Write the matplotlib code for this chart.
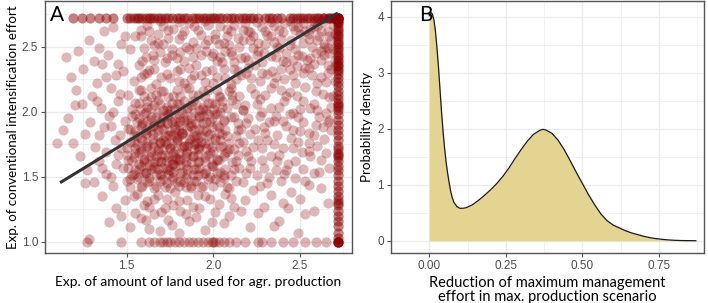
import matplotlib
matplotlib.use("Agg")
import matplotlib.pyplot as plt

# ---------------- Panel A data ----------------
# interior cloud points (x, y), read region by region from the reference
cloud_pts = [
    (1.42,2.65),(1.58,2.63),(1.71,2.66),(1.83,2.62),(1.97,2.67),(2.08,2.64),(2.21,2.61),(2.35,2.66),(2.47,2.63),(2.58,2.65),
    (1.28,2.55),(1.47,2.52),(1.55,2.58),(1.66,2.51),(1.74,2.57),(1.88,2.54),(1.93,2.59),(2.03,2.52),(2.14,2.57),(2.26,2.53),(2.31,2.59),(2.44,2.51),(2.55,2.56),(2.64,2.52),
    (1.22,2.47),(1.39,2.44),(1.52,2.48),(1.61,2.42),(1.69,2.46),(1.79,2.41),(1.86,2.48),(1.99,2.43),(2.07,2.47),(2.18,2.42),(2.29,2.45),(2.38,2.49),(2.51,2.43),(2.62,2.47),
    (1.25,2.33),(1.36,2.37),(1.48,2.31),(1.57,2.36),(1.63,2.32),(1.72,2.38),(1.81,2.33),(1.90,2.36),(1.96,2.31),(2.05,2.38),(2.12,2.33),(2.24,2.36),(2.34,2.31),(2.42,2.38),(2.53,2.34),(2.66,2.36),
    (1.18,2.27),(1.33,2.22),(1.44,2.28),(1.54,2.24),(1.60,2.29),(1.67,2.21),(1.75,2.26),(1.83,2.22),(1.89,2.28),(1.95,2.23),(2.02,2.27),(2.10,2.21),(2.16,2.28),(2.27,2.24),(2.36,2.27),(2.47,2.22),(2.57,2.28),(2.65,2.23),
    (1.21,2.17),(1.30,2.12),(1.41,2.18),(1.51,2.13),(1.58,2.17),(1.64,2.11),(1.70,2.16),(1.77,2.12),(1.84,2.18),(1.91,2.13),(1.97,2.17),(2.04,2.11),(2.09,2.16),(2.15,2.12),(2.22,2.18),(2.30,2.13),(2.39,2.17),(2.48,2.12),(2.59,2.16),(2.67,2.11),
    (1.24,2.06),(1.35,2.03),(1.45,2.08),(1.53,2.02),(1.57,2.07),(1.62,2.04),(1.68,2.09),(1.73,2.01),(1.79,2.06),(1.85,2.03),(1.88,2.08),(1.94,2.02),(1.99,2.07),(2.05,2.04),(2.11,2.09),(2.17,2.01),(2.25,2.06),(2.33,2.03),(2.41,2.08),(2.50,2.02),(2.58,2.06),(2.68,2.04),
    (1.16,1.95),(1.29,1.92),(1.40,1.97),(1.49,1.93),(1.55,1.98),(1.59,1.91),(1.64,1.96),(1.69,1.92),(1.74,1.98),(1.78,1.93),(1.83,1.96),(1.87,1.91),(1.92,1.97),(1.96,1.92),(2.01,1.98),(2.06,1.94),(2.12,1.96),(2.19,1.91),(2.27,1.97),(2.35,1.93),(2.44,1.98),(2.52,1.92),(2.61,1.96),(2.67,1.94),
    (1.13,1.86),(1.26,1.83),(1.37,1.88),(1.46,1.82),(1.52,1.87),(1.56,1.81),(1.61,1.86),(1.65,1.83),(1.70,1.88),(1.74,1.82),(1.78,1.87),(1.82,1.84),(1.86,1.89),(1.90,1.82),(1.94,1.86),(1.98,1.83),(2.03,1.88),(2.08,1.81),(2.14,1.86),(2.21,1.83),(2.29,1.88),(2.37,1.82),(2.46,1.86),(2.55,1.84),(2.63,1.88),(1.80,1.81),
    (1.19,1.76),(1.32,1.73),(1.43,1.78),(1.50,1.72),(1.54,1.77),(1.58,1.71),(1.62,1.76),(1.66,1.73),(1.71,1.78),(1.75,1.72),(1.79,1.77),(1.83,1.74),(1.87,1.79),(1.91,1.72),(1.95,1.76),(1.99,1.73),(2.04,1.78),(2.09,1.71),(2.15,1.76),(2.23,1.73),(2.31,1.78),(2.40,1.72),(2.49,1.77),(2.60,1.74),(1.73,1.75),(1.89,1.75),
    (1.23,1.66),(1.34,1.62),(1.45,1.67),(1.51,1.63),(1.55,1.68),(1.60,1.61),(1.64,1.66),(1.68,1.62),(1.72,1.67),(1.76,1.63),(1.80,1.68),(1.84,1.61),(1.88,1.66),(1.92,1.62),(1.97,1.67),(2.02,1.63),(2.07,1.68),(2.13,1.62),(2.20,1.66),(2.28,1.63),(2.38,1.67),(2.47,1.62),(2.56,1.66),(1.78,1.65),
    (1.27,1.55),(1.38,1.52),(1.48,1.57),(1.53,1.51),(1.57,1.56),(1.61,1.53),(1.65,1.58),(1.69,1.52),(1.73,1.57),(1.77,1.54),(1.81,1.59),(1.85,1.52),(1.90,1.56),(1.95,1.53),(2.00,1.58),(2.06,1.51),(2.12,1.56),(2.19,1.53),(2.29,1.57),(2.41,1.52),(2.52,1.56),(2.61,1.54),
    (1.31,1.46),(1.42,1.43),(1.52,1.48),(1.58,1.42),(1.63,1.47),(1.67,1.43),(1.71,1.48),(1.75,1.41),(1.79,1.46),(1.84,1.42),(1.89,1.47),(1.94,1.43),(2.01,1.48),(2.08,1.42),(2.17,1.46),(2.27,1.43),(2.39,1.47),(2.55,1.44),
    (1.36,1.35),(1.49,1.32),(1.56,1.37),(1.62,1.31),(1.68,1.36),(1.73,1.33),(1.78,1.38),(1.85,1.32),(1.91,1.36),(1.98,1.33),(2.07,1.37),(2.18,1.32),(2.33,1.36),(2.50,1.33),
    (1.44,1.26),(1.55,1.22),(1.63,1.27),(1.70,1.23),(1.77,1.28),(1.84,1.21),(1.92,1.26),(2.01,1.23),(2.12,1.27),(2.26,1.22),(2.43,1.26),(2.58,1.24),
    (1.40,1.15),(1.52,1.11),(1.61,1.17),(1.69,1.08),(1.76,1.13),(1.86,1.16),(1.95,1.09),(2.06,1.14),(2.21,1.11),(2.38,1.16),
    (1.10,1.76),(1.15,2.42),(1.28,1.02),(1.20,2.05),(1.26,1.45),
]
# dense core of the cloud
core_pts = [
    (1.52,1.42),(1.59,1.43),(1.66,1.41),(1.72,1.42),(1.80,1.43),(1.87,1.41),(1.93,1.42),(2.00,1.43),(2.09,1.41),
    (1.50,1.47),(1.56,1.48),(1.62,1.46),(1.69,1.47),(1.76,1.48),(1.83,1.46),(1.90,1.47),(1.97,1.48),(2.04,1.46),(2.13,1.47),
    (1.54,1.52),(1.60,1.53),(1.67,1.51),(1.74,1.52),(1.81,1.53),(1.88,1.51),(1.94,1.52),(2.02,1.53),(2.10,1.51),
    (1.51,1.57),(1.58,1.58),(1.64,1.56),(1.71,1.57),(1.78,1.58),(1.85,1.56),(1.92,1.57),(1.99,1.58),(2.07,1.56),(2.15,1.57),
    (1.53,1.62),(1.60,1.63),(1.66,1.61),(1.73,1.62),(1.80,1.63),(1.87,1.61),(1.95,1.62),(2.03,1.63),(2.11,1.61),
    (1.50,1.67),(1.57,1.68),(1.63,1.66),(1.70,1.67),(1.77,1.68),(1.84,1.66),(1.91,1.67),(1.98,1.68),(2.06,1.66),(2.14,1.67),
    (1.55,1.72),(1.61,1.73),(1.68,1.71),(1.75,1.72),(1.82,1.73),(1.89,1.71),(1.96,1.72),(2.04,1.73),(2.12,1.71),
    (1.52,1.77),(1.59,1.78),(1.65,1.76),(1.72,1.77),(1.79,1.78),(1.86,1.76),(1.93,1.77),(2.01,1.78),(2.09,1.76),(2.17,1.77),
    (1.54,1.82),(1.61,1.83),(1.68,1.81),(1.75,1.82),(1.82,1.83),(1.89,1.81),(1.97,1.82),(2.05,1.83),(2.13,1.81),
    (1.51,1.87),(1.58,1.88),(1.64,1.86),(1.71,1.87),(1.78,1.88),(1.85,1.86),(1.92,1.87),(1.99,1.88),(2.07,1.86),(2.16,1.87),
    (1.56,1.92),(1.62,1.93),(1.69,1.91),(1.76,1.92),(1.83,1.93),(1.90,1.91),(1.98,1.92),(2.06,1.93),(2.14,1.91),
    (1.53,1.97),(1.60,1.98),(1.67,1.96),(1.73,1.97),(1.80,1.98),(1.87,1.96),(1.94,1.97),(2.02,1.98),(2.10,1.96),
    (1.58,2.02),(1.64,2.03),(1.71,2.01),(1.78,2.02),(1.85,2.03),(1.92,2.01),(2.00,2.02),(2.08,2.03),(2.17,2.01),
    (1.55,2.07),(1.62,2.08),(1.69,2.06),(1.76,2.07),(1.83,2.08),(1.90,2.06),(1.97,2.07),(2.05,2.08),(2.13,2.06),
    (1.60,2.12),(1.67,2.13),(1.74,2.11),(1.81,2.12),(1.88,2.13),(1.95,2.11),(2.03,2.12),(2.11,2.13),
    (1.57,2.17),(1.64,2.18),(1.71,2.16),(1.79,2.17),(1.86,2.18),(1.94,2.16),(2.02,2.17),(2.10,2.18),
    (1.66,1.57),(1.73,1.45),(1.81,1.47),(1.87,1.43),(1.70,1.62),(1.79,1.64),(1.85,1.74),(1.77,1.82),(1.69,1.77),(1.91,1.80),
    (1.81,1.93),(1.73,1.91),(1.65,1.89),(1.97,1.98),(1.76,1.60),(1.84,1.68),(1.68,1.70),(1.92,1.74),(1.80,1.86),(1.74,1.55),
]
# darkest centre of the core
centre_pts = [
    (1.57,1.50),(1.63,1.49),(1.70,1.51),(1.77,1.50),(1.84,1.49),(1.91,1.51),(1.98,1.50),(2.06,1.49),
    (1.55,1.55),(1.61,1.54),(1.68,1.56),(1.75,1.55),(1.82,1.54),(1.89,1.56),(1.96,1.55),(2.04,1.54),
    (1.57,1.60),(1.63,1.59),(1.70,1.61),(1.77,1.60),(1.84,1.59),(1.91,1.61),(1.99,1.60),
    (1.54,1.65),(1.60,1.64),(1.67,1.66),(1.74,1.65),(1.81,1.64),(1.88,1.66),(1.95,1.65),(2.02,1.64),
    (1.58,1.70),(1.64,1.69),(1.71,1.71),(1.78,1.70),(1.85,1.69),(1.92,1.71),(2.00,1.70),(2.08,1.69),
    (1.56,1.75),(1.62,1.74),(1.69,1.76),(1.76,1.75),(1.83,1.74),(1.90,1.76),(1.97,1.75),(2.05,1.74),
    (1.58,1.80),(1.65,1.79),(1.72,1.81),(1.79,1.80),(1.86,1.79),(1.93,1.81),(2.01,1.80),
    (1.55,1.85),(1.61,1.84),(1.68,1.86),(1.75,1.85),(1.82,1.84),(1.89,1.86),(1.96,1.85),(2.03,1.84),
    (1.59,1.90),(1.66,1.89),(1.73,1.91),(1.80,1.90),(1.87,1.89),(1.94,1.91),(2.02,1.90),
    (1.57,1.95),(1.64,1.94),(1.71,1.96),(1.78,1.95),(1.85,1.94),(1.92,1.96),(1.99,1.95),
    (1.61,2.00),(1.68,1.99),(1.75,2.01),(1.82,2.00),(1.89,1.99),(1.96,2.01),(2.04,2.00),
    (1.66,2.05),(1.73,2.04),(1.80,2.06),(1.87,2.05),(1.94,2.04),(2.01,2.06),
]
# upper band of the cloud (y 2.2 - 2.7)
upper_pts = [
    (2.50,2.60),(2.56,2.64),(2.61,2.58),(2.66,2.62),(2.69,2.67),(2.63,2.69),(2.58,2.70),(2.52,2.68),(2.46,2.66),(2.40,2.61),
    (2.68,2.55),(2.64,2.50),(2.59,2.45),(2.54,2.40),(2.48,2.35),(2.62,2.40),(2.67,2.45),(2.70,2.35),(2.66,2.30),(2.45,2.55),
    (2.37,2.50),(2.33,2.58),(2.28,2.65),(2.20,2.62),(2.15,2.50),(2.08,2.58),(2.25,2.44),(2.12,2.38),(2.00,2.45),(2.19,2.30),
    (1.62,2.67),(1.68,2.60),(1.77,2.64),(1.86,2.68),(1.91,2.63),(2.01,2.60),(2.12,2.67),(2.17,2.63),(2.25,2.69),(2.30,2.62),
    (2.41,2.68),(2.53,2.62),(2.60,2.66),(2.70,2.60),(1.64,2.55),(1.71,2.52),(1.80,2.56),(1.84,2.50),(1.97,2.55),(2.06,2.53),
    (2.10,2.46),(2.21,2.55),(2.35,2.54),(2.42,2.45),(2.57,2.50),(2.69,2.48),(1.66,2.40),(1.76,2.44),(1.83,2.39),(1.93,2.44),
    (2.02,2.39),(2.16,2.41),(2.28,2.38),(2.36,2.42),(2.46,2.40),(2.58,2.37),(1.62,2.30),(1.70,2.27),(1.79,2.31),(1.87,2.25),
    (1.99,2.32),(2.07,2.26),(2.14,2.31),(2.22,2.26),(2.31,2.29),(2.41,2.25),(2.52,2.30),(2.62,2.27),(2.70,2.24),(2.44,2.33),
]
upper_pts_2 = [
    (1.58,2.58),(1.63,2.62),(1.69,2.70),(1.74,2.63),(1.80,2.69),(1.89,2.66),(1.95,2.70),(2.04,2.66),(2.10,2.62),(2.18,2.68),
    (2.23,2.58),(2.33,2.69),(2.38,2.63),(2.44,2.70),(2.49,2.65),(2.55,2.60),(2.62,2.62),(2.67,2.58),
    (1.60,2.49),(1.68,2.53),(1.76,2.48),(1.82,2.59),(1.90,2.49),(1.95,2.52),(2.01,2.56),(2.09,2.51),(2.17,2.55),(2.23,2.49),
    (2.30,2.52),(2.39,2.56),(2.47,2.48),(2.52,2.53),(2.60,2.55),(2.66,2.49),
    (1.59,2.39),(1.65,2.44),(1.73,2.41),(1.81,2.46),(1.88,2.42),(1.96,2.47),(2.04,2.42),(2.11,2.44),(2.20,2.40),(2.26,2.47),
    (2.33,2.43),(2.40,2.39),(2.49,2.44),(2.56,2.41),(2.64,2.44),(2.70,2.40),
    (1.58,2.27),(1.66,2.33),(1.73,2.29),(1.80,2.24),(1.86,2.34),(1.93,2.28),(2.00,2.22),(2.06,2.33),(2.13,2.25),(2.20,2.34),
    (2.28,2.30),(2.35,2.22),(2.39,2.33),(2.46,2.28),(2.55,2.34),(2.60,2.22),(2.68,2.33),
]
# right part of the cloud (x 2.2 - 2.7, y 1.0 - 2.2)
right_pts = [
    (2.24,2.14),(2.33,2.18),(2.44,2.15),(2.53,2.19),(2.63,2.14),(2.28,2.00),(2.38,2.04),(2.46,1.99),(2.56,2.03),(2.65,1.99),
    (2.24,1.87),(2.32,1.92),(2.42,1.89),(2.50,1.85),(2.59,1.90),(2.68,1.86),(2.26,1.78),(2.35,1.75),(2.45,1.80),(2.55,1.76),
    (2.64,1.79),(2.22,1.62),(2.33,1.66),(2.43,1.60),(2.51,1.69),(2.62,1.63),(2.25,1.51),(2.36,1.55),(2.47,1.49),(2.58,1.53),
    (2.23,1.40),(2.31,1.45),(2.45,1.38),(2.62,1.41),(2.29,1.27),(2.40,1.30),(2.53,1.21),(2.66,1.30),(2.35,1.12),(2.49,1.07),
    (2.18,2.05),(2.27,2.10),(2.36,1.97),(2.42,2.12),(2.52,2.08),(2.60,2.01),(2.69,2.12),(2.20,1.95),(2.30,1.84),(2.40,1.93),
    (2.49,1.96),(2.58,1.82),(2.66,1.92),(2.19,1.70),(2.28,1.72),(2.37,1.62),(2.46,1.72),(2.55,1.70),(2.65,1.68),(2.21,1.57),
    (2.32,1.50),(2.42,1.55),(2.53,1.47),(2.67,1.57),
]
# lower and left parts of the cloud
lower_left_pts = [
    (1.54,1.35),(1.60,1.28),(1.66,1.33),(1.72,1.26),(1.80,1.31),(1.88,1.27),(1.95,1.35),(2.03,1.29),(2.10,1.34),(2.16,1.24),
    (1.58,1.18),(1.66,1.21),(1.74,1.17),(1.81,1.24),(1.90,1.19),(1.99,1.15),(2.09,1.20),(1.47,1.20),(1.63,1.10),(1.80,1.07),
    (1.34,1.82),(1.41,1.89),(1.38,1.69),(1.44,1.60),(1.36,1.57),(1.42,2.00),(1.33,2.08),(1.46,2.14),(1.38,2.27),(1.31,2.39),
    (1.45,2.37),(1.34,2.49),(1.49,2.58),(1.37,2.62),(1.47,1.72),(1.41,1.50),
]
# points capped at the maximum effort (y = e)
top_row_x = [1.19, 1.24, 1.29, 1.34, 1.38, 1.42, 1.50, 1.52, 1.54, 1.56, 1.57, 1.59, 1.61, 1.63, 1.64, 1.66,
             1.68, 1.70, 1.72, 1.74, 1.76, 1.79, 1.81, 1.83, 1.85, 1.88, 1.90, 1.92, 1.94, 1.96, 1.98, 2.00,
             2.01, 2.03, 2.05, 2.08, 2.10, 2.12, 2.15, 2.17, 2.19, 2.21, 2.23, 2.26, 2.30, 2.32, 2.34, 2.37,
             2.39, 2.44, 2.46, 2.48, 2.50, 2.52, 2.54, 2.56, 2.58, 2.60, 2.61, 2.63, 2.64, 2.66, 2.67, 2.68,
             2.69, 2.70, 2.71, 2.72, 2.72, 2.72, 2.72]
top_row_y = 2.718
# points capped at the maximum land (x = e)
right_col_y = [1.00, 1.00, 1.00, 1.03, 1.07, 1.12, 1.16, 1.20, 1.24, 1.28, 1.30, 1.32, 1.35, 1.39, 1.43, 1.47,
               1.51, 1.55, 1.58, 1.62, 1.65, 1.67, 1.68, 1.71, 1.74, 1.78, 1.82, 1.86, 1.90, 1.94, 1.98, 2.01,
               2.04, 2.05, 2.07, 2.10, 2.13, 2.16, 2.20, 2.23, 2.26, 2.29, 2.31, 2.33, 2.35, 2.36, 2.38, 2.40,
               2.42, 2.44, 2.46, 2.48, 2.50, 2.52, 2.54, 2.56, 2.58, 2.60, 2.62, 2.64, 2.66, 2.68, 2.69, 2.70,
               2.71, 2.72, 2.72]
right_col_x = 2.718
# points at the minimum effort (y = 1)
bottom_row_x = [1.27, 1.47, 1.58, 1.63, 1.66, 1.69, 1.71, 1.73, 1.75, 1.78, 1.80, 1.83, 1.86, 1.88, 1.91, 1.94,
                1.97, 1.99, 2.00, 2.01, 2.03, 2.06, 2.09, 2.13, 2.18, 2.26, 2.28, 2.33, 2.40, 2.46, 2.53, 2.59,
                2.65, 2.72, 2.72]
bottom_row_y = 1.0
# fitted regression line end points
fit_x = [1.116, 2.718]
fit_y = [1.454, 2.760]

# ---------------- Panel B data ----------------
dens_x = [0.000, 0.005, 0.010, 0.015, 0.020, 0.025, 0.030, 0.035, 0.040, 0.045, 0.050, 0.055, 0.060, 0.065,
          0.070, 0.075, 0.080, 0.090, 0.100, 0.110, 0.120, 0.140, 0.160, 0.180, 0.200, 0.220, 0.240, 0.260,
          0.280, 0.300, 0.320, 0.340, 0.360, 0.370, 0.380, 0.400, 0.420, 0.440, 0.460, 0.480, 0.500, 0.520,
          0.540, 0.560, 0.580, 0.600, 0.620, 0.640, 0.660, 0.680, 0.700, 0.720, 0.740, 0.760, 0.780, 0.800,
          0.820, 0.840, 0.860, 0.870]
dens_y = [4.02, 4.08, 4.05, 3.95, 3.75, 3.45, 3.10, 2.70, 2.30, 1.95, 1.65, 1.40, 1.20, 1.03,
          0.88, 0.77, 0.69, 0.61, 0.58, 0.58, 0.59, 0.64, 0.72, 0.81, 0.91, 1.02, 1.15, 1.30,
          1.47, 1.63, 1.78, 1.90, 1.97, 1.99, 1.98, 1.92, 1.80, 1.63, 1.43, 1.22, 1.02, 0.82,
          0.64, 0.48, 0.36, 0.28, 0.23, 0.18, 0.14, 0.11, 0.08, 0.055, 0.038, 0.025, 0.015, 0.008,
          0.004, 0.002, 0.001, 0.0]

# ---------------- styling ----------------
LABEL_FONT = ["Lato", "DejaVu Sans"]
TICK_FONT = ["Liberation Sans", "DejaVu Sans"]
GRID = "#EBEBEB"
FRAME = "#555555"
TICKC = "#4D4D4D"
DOT = "#8B0000"

fig = plt.figure(figsize=(7.08, 3.03), dpi=100)
axA = fig.add_axes([45/708, 1 - 253/303, (352-45)/708, 252/303])
axB = fig.add_axes([391/708, 1 - 253/303, (703.5-391)/708, 252/303])

def style(ax, xmaj, xmin, ymaj, ymin):
    ax.set_xticks(xmaj)
    ax.set_xticks(xmin, minor=True)
    ax.set_yticks(ymaj)
    ax.set_yticks(ymin, minor=True)
    ax.grid(True, which="major", color=GRID, lw=1.0, zorder=0)
    ax.grid(True, which="minor", color=GRID, lw=0.5, zorder=0)
    ax.set_axisbelow(True)
    for s in ax.spines.values():
        s.set_color(FRAME)
        s.set_linewidth(1.0)
    ax.tick_params(which="major", length=3, width=0.8, color=FRAME, labelcolor=TICKC, labelsize=8.5, pad=2)
    ax.tick_params(which="minor", length=0)
    for lab in ax.get_xticklabels() + ax.get_yticklabels():
        lab.set_family(TICK_FONT)

# Panel A
inner = cloud_pts + core_pts + centre_pts + upper_pts + upper_pts_2 + right_pts + lower_left_pts
axA.scatter([p[0] for p in inner], [p[1] for p in inner], s=54, color=DOT, alpha=0.28, linewidths=0, zorder=2)
cap_x = top_row_x + [right_col_x] * len(right_col_y)
cap_y = [top_row_y] * len(top_row_x) + right_col_y
axA.scatter(cap_x, cap_y, s=54, color=DOT, alpha=0.5, linewidths=0, zorder=2)
axA.scatter(bottom_row_x, [bottom_row_y] * len(bottom_row_x), s=54, color=DOT, alpha=0.3, linewidths=0, zorder=2)
axA.plot(fit_x, fit_y, color="#333333", lw=2.2, solid_capstyle="butt", zorder=3)
axA.set_xlim(1.029, 2.800)
axA.set_ylim(0.913, 2.852)
style(axA, [1.5, 2.0, 2.5], [1.25, 1.75, 2.25, 2.75], [1.0, 1.5, 2.0, 2.5], [1.25, 1.75, 2.25, 2.75])
axA.set_xticklabels(["1.5", "2.0", "2.5"])
axA.set_yticklabels(["1.0", "1.5", "2.0", "2.5"])
axA.set_xlabel("Exp. of amount of land used for agr. production", family=LABEL_FONT, fontsize=9.9, labelpad=3)
axA.set_ylabel("Exp. of conventional intensification effort", family=LABEL_FONT, fontsize=9.6, labelpad=2)
axA.text(0.015, 0.985, "A", transform=axA.transAxes, ha="left", va="top", family=LABEL_FONT, fontsize=15)

# Panel B
axB.fill_between(dens_x, 0, dens_y, color="#E3D491", lw=0, zorder=2)
axB.plot(dens_x, dens_y, color="#1a1a1a", lw=0.9, zorder=3)
axB.set_xlim(-0.044, 0.895)
axB.set_ylim(-0.219, 4.283)
style(axB, [0.0, 0.25, 0.5, 0.75], [-0.125, 0.125, 0.375, 0.625, 0.875], [0, 1, 2, 3, 4], [0.5, 1.5, 2.5, 3.5])
axB.set_xticklabels(["0.00", "0.25", "0.50", "0.75"])
axB.set_yticklabels(["0", "1", "2", "3", "4"])
axB.set_xlabel("Reduction of maximum management\neffort in max. production scenario", family=LABEL_FONT,
               fontsize=10.5, labelpad=3, linespacing=1.0)
axB.set_ylabel("Probability density", family=LABEL_FONT, fontsize=9.6, labelpad=3)
axB.text(0.09, 0.985, "B", transform=axB.transAxes, ha="left", va="top", family=LABEL_FONT, fontsize=15)

fig.savefig("out.png", dpi=100)
